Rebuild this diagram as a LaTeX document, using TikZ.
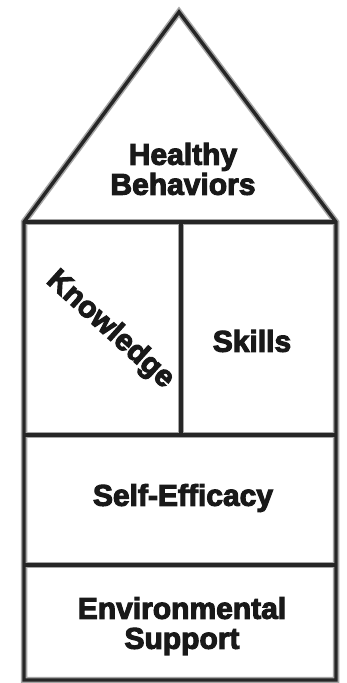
\documentclass[tikz,border=0pt]{standalone}
\usepackage{fontspec}
% heavy sans face: bold Liberation Sans, emboldened further
\newfontfamily\heavy{Liberation Sans}[UprightFont={* Bold},UprightFeatures={FakeBold=3.5}]
\begin{document}
\begin{tikzpicture}[x=1pt,y=-1pt,
  wall/.style={draw=black!85,line width=3.4pt,line join=miter},
  shade/.style={draw=black!35,line width=6.5pt,line join=miter},
  label/.style={font=\heavy\fontsize{30}{30}\selectfont,text=black!90,align=center,inner sep=0pt}]
  \useasboundingbox[fill=white] (0,0) rectangle (347,683);
  % corners of the house
  \coordinate (apex) at (179,12);
  \coordinate (eaveL) at (24,222);
  \coordinate (eaveR) at (336,222);
  \coordinate (baseL) at (24,680);
  \coordinate (baseR) at (336,680);
  \coordinate (midT) at (181,222);
  \coordinate (midB) at (181,435);
  \coordinate (f1L) at (24,435);
  \coordinate (f1R) at (336,435);
  \coordinate (f2L) at (24,565);
  \coordinate (f2R) at (336,565);
  % soft grey edge under every line
  \foreach \s in {shade,wall}{
    \draw[\s] (eaveL) -- (apex) -- (eaveR) -- (baseR) -- (baseL) -- cycle;
    \draw[\s] (eaveL) -- (eaveR);
    \draw[\s] (midT) -- (midB);
    \draw[\s] (f1L) -- (f1R);
    \draw[\s] (f2L) -- (f2R);
  }
  % labels
  \node[label] (hb) at (183,169) {Healthy\\Behaviors};
  \node[label,rotate=-42] (kn) at (110,330) {Knowledge};
  \node[label] (sk) at (252,341) {Skills};
  \node[label] (se) at (183,498) {Self-Efficacy};
  \node[label] (es) at (182,626) {Environmental\\Support};
\end{tikzpicture}
\end{document}
